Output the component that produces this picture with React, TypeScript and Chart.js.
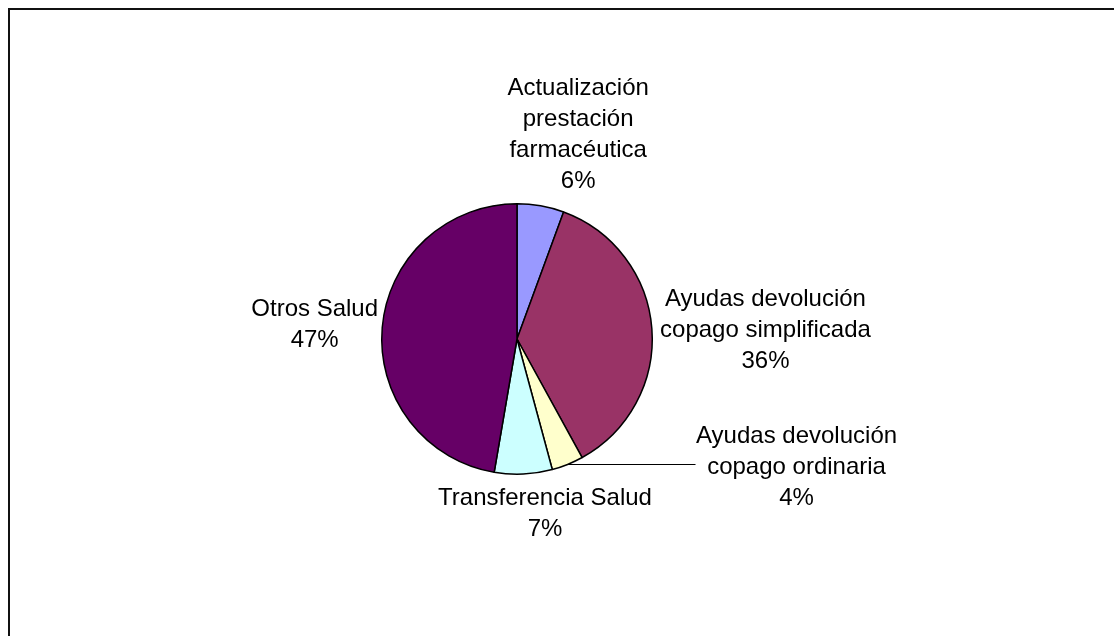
import React, { useEffect, useRef } from "react";
import { Chart, registerables } from "chart.js";

Chart.register(...registerables);

const categories: string[][] = [
  ["Actualización", "prestación", "farmacéutica"],
  ["Ayudas devolución", "copago simplificada"],
  ["Ayudas devolución", "copago ordinaria"],
  ["Transferencia Salud"],
  ["Otros Salud"],
];
const values: number[] = [5.6, 36.4, 3.8, 6.9, 47.3];
const colors: string[] = ["#9999FF", "#993366", "#FFFFCC", "#CCFFFF", "#660066"];

// label block centre offsets, in units of pie radius, relative to the pie centre
const labelOffsets: [number, number][] = [
  [0.452, -1.51],
  [1.837, -0.062],
  [2.067, 0.948],
  [0.207, 1.296],
  [-1.496, -0.104],
];

const labelPlugin = {
  id: "excelLabels",
  afterDatasetsDraw(chart: any) {
    const ctx = chart.ctx as CanvasRenderingContext2D;
    const meta = chart.getDatasetMeta(0);
    const total = values.reduce((a, b) => a + b, 0);
    const fontSize = 24;
    const lineH = 31;
    ctx.save();
    ctx.font = `${fontSize}px "Liberation Sans", Arial, sans-serif`;
    ctx.fillStyle = "#000";
    ctx.textAlign = "center";
    ctx.textBaseline = "middle";
    meta.data.forEach((arc: any, i: number) => {
      const { x, y, outerRadius, startAngle, endAngle } = arc.getProps(
        ["x", "y", "outerRadius", "startAngle", "endAngle"],
        true
      );
      const [ox, oy] = labelOffsets[i];
      const cx = x + ox * outerRadius;
      const cy = y + oy * outerRadius;
      const lines = [...categories[i], `${Math.round((values[i] / total) * 100)}%`];
      const top = cy - ((lines.length - 1) * lineH) / 2;
      lines.forEach((t, k) => ctx.fillText(t, cx, top + k * lineH));
      if (i === 2) {
        const mid = (startAngle + endAngle) / 2;
        const ex = x + Math.cos(mid) * outerRadius;
        const ey = y + Math.sin(mid) * outerRadius;
        ctx.beginPath();
        ctx.strokeStyle = "#000";
        ctx.lineWidth = 1;
        ctx.moveTo(ex, Math.round(ey) + 0.5);
        ctx.lineTo(x + 1.32 * outerRadius, Math.round(ey) + 0.5);
        ctx.stroke();
      }
    });
    ctx.restore();
  },
};

export default function App() {
  const ref = useRef<HTMLCanvasElement | null>(null);
  useEffect(() => {
    if (!ref.current) return;
    const chart = new Chart(ref.current, {
      type: "pie",
      data: {
        labels: categories.map((c) => c.join(" ")),
        datasets: [
          {
            data: values,
            backgroundColor: colors,
            borderColor: "#000",
            borderWidth: 1.5,
          },
        ],
      },
      options: {
        animation: false,
        responsive: false,
        maintainAspectRatio: false,
        rotation: 0,
        layout: { padding: { left: 200, right: 280, top: 203, bottom: 161 } },
        plugins: { legend: { display: false }, tooltip: { enabled: false } },
      },
      plugins: [labelPlugin],
    });
    return () => chart.destroy();
  }, []);
  return (
    <div style={{ position: "fixed", left: 0, top: 0, width: 1114, height: 636, overflow: "hidden", background: "#fff" }}>
      <div
        style={{
          position: "absolute",
          left: 8,
          top: 8,
          width: 1200,
          height: 800,
          borderTop: "2px solid #111",
          borderLeft: "2px solid #111",
        }}
      />
      <canvas ref={ref} width={1114} height={636} style={{ position: "absolute", left: 0, top: 0 }} />
    </div>
  );
}
